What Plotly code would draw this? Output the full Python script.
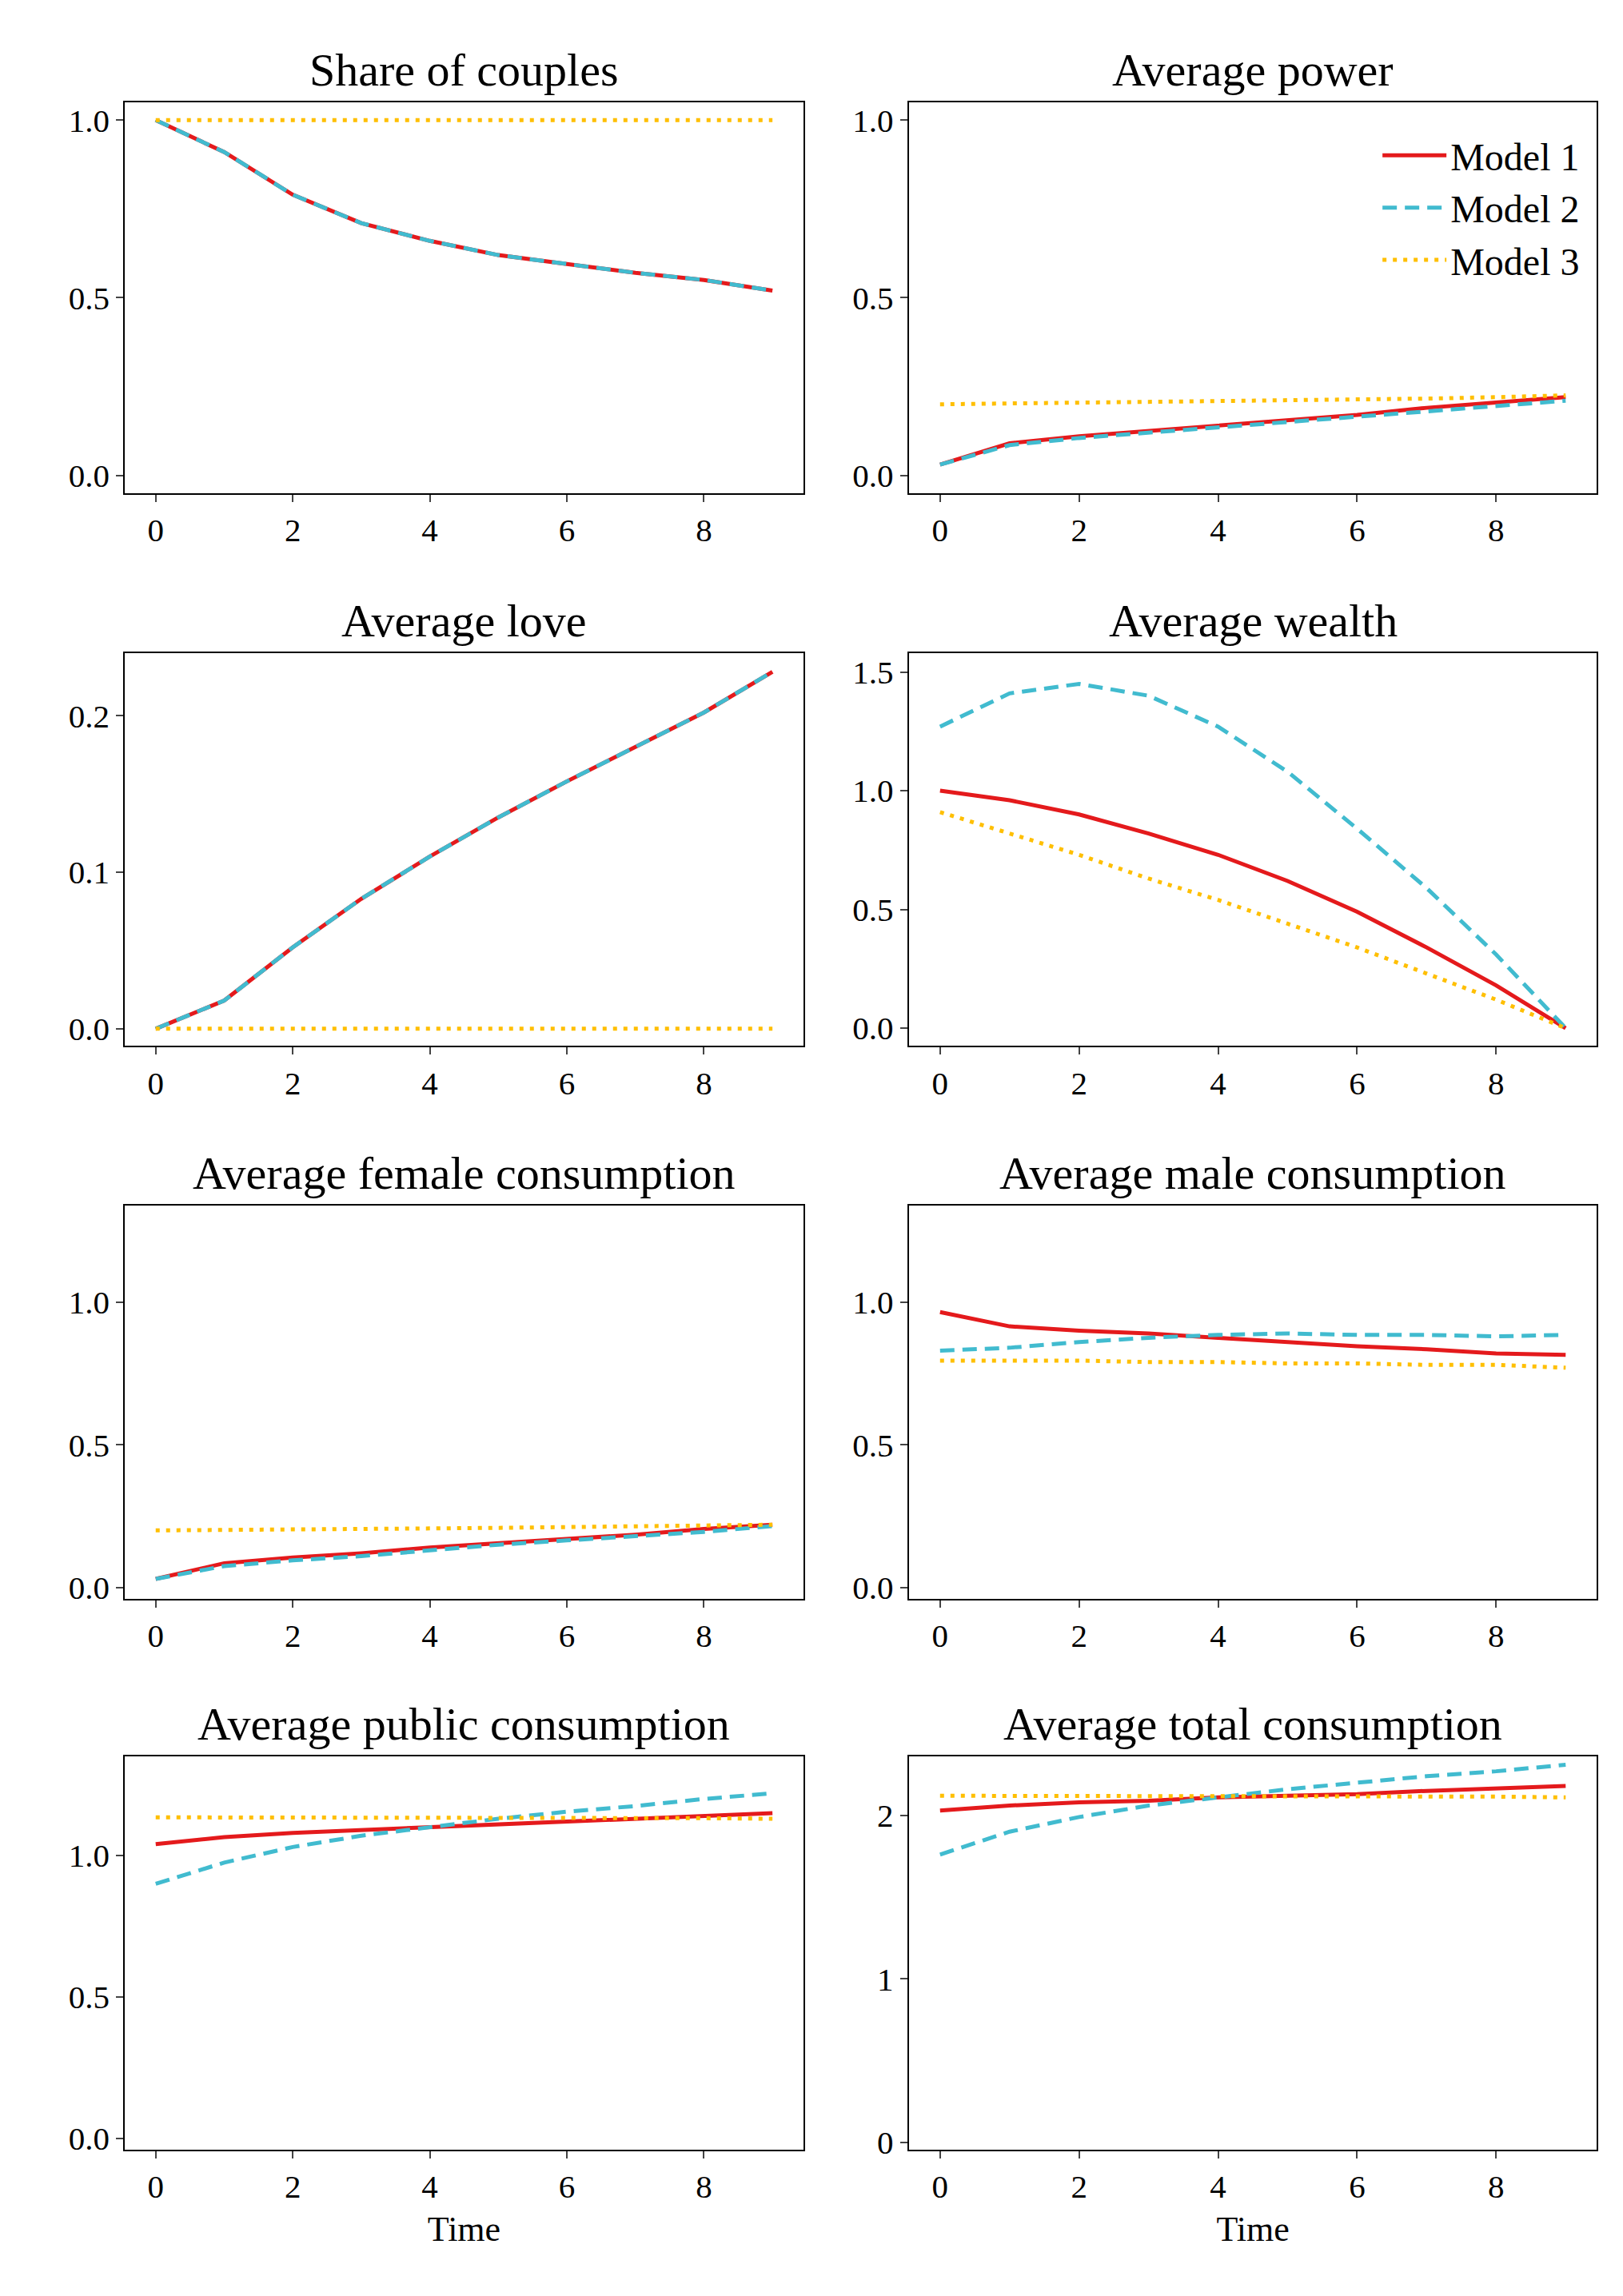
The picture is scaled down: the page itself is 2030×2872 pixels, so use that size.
import plotly.graph_objects as go

t = list(range(10))

titles = ["Share of couples", "Average power", "Average love", "Average wealth",
          "Average female consumption", "Average male consumption",
          "Average public consumption", "Average total consumption"]

share_m1 = [1.0, 0.91, 0.79, 0.71, 0.66, 0.62, 0.595, 0.57, 0.55, 0.52]
share_m2 = [1.0, 0.91, 0.79, 0.71, 0.66, 0.62, 0.595, 0.57, 0.55, 0.52]
share_m3 = [1.0] * 10

power_m1 = [0.03, 0.09, 0.11, 0.125, 0.14, 0.155, 0.17, 0.19, 0.205, 0.22]
power_m2 = [0.03, 0.085, 0.105, 0.12, 0.135, 0.15, 0.165, 0.18, 0.195, 0.21]
power_m3 = [0.20, 0.202, 0.204, 0.206, 0.208, 0.21, 0.213, 0.216, 0.22, 0.225]

love_m1 = [0.0, 0.018, 0.052, 0.083, 0.11, 0.135, 0.158, 0.18, 0.202, 0.228]
love_m2 = [0.0, 0.018, 0.052, 0.083, 0.11, 0.135, 0.158, 0.18, 0.202, 0.228]
love_m3 = [0.0] * 10

wealth_m1 = [1.0, 0.96, 0.90, 0.82, 0.73, 0.62, 0.49, 0.34, 0.18, 0.0]
wealth_m2 = [1.27, 1.41, 1.45, 1.40, 1.27, 1.08, 0.84, 0.59, 0.31, 0.0]
wealth_m3 = [0.91, 0.82, 0.73, 0.63, 0.54, 0.44, 0.34, 0.23, 0.12, 0.0]

fcons_m1 = [0.03, 0.085, 0.105, 0.12, 0.14, 0.155, 0.17, 0.185, 0.205, 0.22]
fcons_m2 = [0.03, 0.075, 0.095, 0.11, 0.13, 0.15, 0.165, 0.18, 0.195, 0.215]
fcons_m3 = [0.20, 0.201, 0.203, 0.205, 0.207, 0.209, 0.211, 0.214, 0.217, 0.22]

mcons_m1 = [0.965, 0.915, 0.90, 0.89, 0.875, 0.86, 0.845, 0.835, 0.82, 0.815]
mcons_m2 = [0.83, 0.84, 0.86, 0.875, 0.885, 0.89, 0.885, 0.885, 0.88, 0.885]
mcons_m3 = [0.795, 0.795, 0.795, 0.79, 0.79, 0.785, 0.785, 0.78, 0.78, 0.77]

pub_m1 = [1.04, 1.065, 1.08, 1.09, 1.10, 1.11, 1.12, 1.13, 1.14, 1.15]
pub_m2 = [0.90, 0.975, 1.03, 1.07, 1.10, 1.13, 1.155, 1.175, 1.20, 1.22]
pub_m3 = [1.135, 1.135, 1.135, 1.135, 1.135, 1.135, 1.135, 1.133, 1.132, 1.13]

tot_m1 = [2.03, 2.06, 2.08, 2.09, 2.11, 2.12, 2.13, 2.15, 2.165, 2.18]
tot_m2 = [1.76, 1.90, 1.99, 2.06, 2.11, 2.16, 2.20, 2.24, 2.27, 2.31]
tot_m3 = [2.12, 2.12, 2.12, 2.12, 2.12, 2.12, 2.12, 2.115, 2.115, 2.11]

series = [(share_m1, share_m2, share_m3), (power_m1, power_m2, power_m3),
          (love_m1, love_m2, love_m3), (wealth_m1, wealth_m2, wealth_m3),
          (fcons_m1, fcons_m2, fcons_m3), (mcons_m1, mcons_m2, mcons_m3),
          (pub_m1, pub_m2, pub_m3), (tot_m1, tot_m2, tot_m3)]

yranges = [(-0.05, 1.05), (-0.05, 1.05), (-0.011, 0.24), (-0.075, 1.58),
           (-0.04, 1.337), (-0.04, 1.337), (-0.04, 1.35), (-0.045, 2.36)]
yticks = [[0, 0.5, 1], [0, 0.5, 1], [0, 0.1, 0.2], [0, 0.5, 1, 1.5],
          [0, 0.5, 1], [0, 0.5, 1], [0, 0.5, 1], [0, 1, 2]]
ytext = [["0.0", "0.5", "1.0"], ["0.0", "0.5", "1.0"], ["0.0", "0.1", "0.2"],
         ["0.0", "0.5", "1.0", "1.5"], ["0.0", "0.5", "1.0"], ["0.0", "0.5", "1.0"],
         ["0.0", "0.5", "1.0"], ["0", "1", "2"]]

xdoms = [(0.073, 0.491), (0.556, 0.980)]
ydoms = [(0.787, 0.958), (0.545, 0.717), (0.303, 0.475), (0.062, 0.234)]

red, cyan, yellow = "#e41a1c", "#41bbcf", "#ffbf00"
FONT = "Liberation Serif"

fig = go.Figure()
for i in range(8):
    r, c = divmod(i, 2)
    n = "" if i == 0 else str(i + 1)
    xa, ya = "x" + n, "y" + n
    m1, m2, m3 = series[i]
    fig.add_trace(go.Scatter(x=t, y=m1, mode="lines", name="Model 1", xaxis=xa, yaxis=ya,
                             line=dict(color=red, width=5), showlegend=(i == 1)))
    fig.add_trace(go.Scatter(x=t, y=m2, mode="lines", name="Model 2", xaxis=xa, yaxis=ya,
                             line=dict(color=cyan, width=5, dash="18px,10px"), showlegend=(i == 1)))
    fig.add_trace(go.Scatter(x=t, y=m3, mode="lines", name="Model 3", xaxis=xa, yaxis=ya,
                             line=dict(color=yellow, width=5, dash="5px,8px"), showlegend=(i == 1)))
    axcommon = dict(showline=True, mirror=True, linecolor="black", linewidth=2, showgrid=False,
                    zeroline=False, ticks="outside", ticklen=9, tickwidth=2,
                    tickfont=dict(family=FONT, size=41, color="black"))
    fig.layout["xaxis" + n] = dict(axcommon, domain=xdoms[c], anchor=ya, range=[-0.45, 9.45],
                                   tickvals=[0, 2, 4, 6, 8],
                                   title=dict(text="Time", font=dict(family=FONT, size=44)) if r == 3 else None)
    fig.layout["yaxis" + n] = dict(axcommon, domain=ydoms[r], anchor=xa, range=list(yranges[i]),
                                   tickvals=yticks[i], ticktext=ytext[i])
    fig.add_annotation(text=titles[i], xref="paper", yref="paper",
                       x=sum(xdoms[c]) / 2, y=ydoms[r][1], xanchor="center", yanchor="bottom", yshift=6,
                       showarrow=False, font=dict(family=FONT, size=58, color="black"))

fig.update_layout(
    width=2030, height=2872, plot_bgcolor="white", paper_bgcolor="white",
    margin=dict(l=0, r=0, t=0, b=0),
    font=dict(family=FONT, color="black"),
    legend=dict(x=0.972, y=0.948, xanchor="right", yanchor="top", bgcolor="rgba(0,0,0,0)",
                font=dict(family=FONT, size=48), itemwidth=80, tracegroupgap=16),
)

fig.write_html("out.html")
